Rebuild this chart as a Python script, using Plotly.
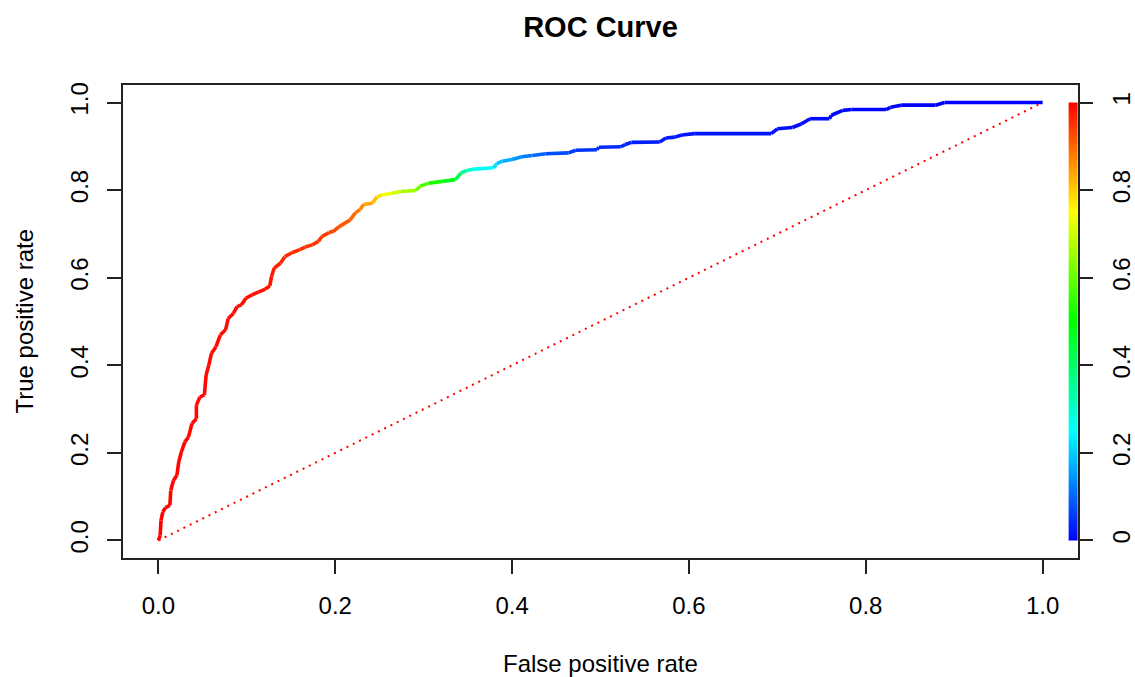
import colorsys
import numpy as np
import plotly.graph_objects as go
from plotly.colors import sample_colorscale

# ---------------- data ----------------
fpr = [0.000, 0.002, 0.003, 0.005, 0.008, 0.013, 0.014, 0.017, 0.021, 0.023,
       0.026, 0.030, 0.034, 0.038, 0.043, 0.043, 0.047, 0.052, 0.054, 0.057,
       0.060, 0.065, 0.070, 0.076, 0.079, 0.085, 0.089, 0.094, 0.099, 0.106,
       0.113, 0.121, 0.126, 0.128, 0.131, 0.138, 0.143, 0.151, 0.160, 0.166,
       0.174, 0.181, 0.185, 0.193, 0.198, 0.204, 0.217, 0.223, 0.228, 0.232,
       0.242, 0.247, 0.253, 0.264, 0.274, 0.291, 0.296, 0.306, 0.321, 0.336,
       0.342, 0.349, 0.357, 0.379, 0.383, 0.389, 0.400, 0.411, 0.423, 0.438,
       0.464, 0.472, 0.496, 0.498, 0.523, 0.528, 0.535, 0.567, 0.574, 0.584,
       0.592, 0.606, 0.693, 0.700, 0.717, 0.727, 0.737, 0.759, 0.761, 0.774,
       0.784, 0.823, 0.828, 0.840, 0.879, 0.889, 1.000]

tpr = [0.000, 0.011, 0.046, 0.065, 0.075, 0.080, 0.114, 0.137, 0.149, 0.179,
       0.202, 0.225, 0.236, 0.267, 0.278, 0.309, 0.328, 0.332, 0.378, 0.400,
       0.427, 0.442, 0.469, 0.481, 0.507, 0.519, 0.534, 0.538, 0.553, 0.561,
       0.567, 0.574, 0.581, 0.603, 0.622, 0.633, 0.648, 0.657, 0.664, 0.670,
       0.675, 0.683, 0.694, 0.703, 0.706, 0.716, 0.732, 0.749, 0.755, 0.767,
       0.770, 0.784, 0.789, 0.793, 0.797, 0.799, 0.809, 0.816, 0.820, 0.824,
       0.839, 0.845, 0.848, 0.851, 0.861, 0.866, 0.870, 0.876, 0.879, 0.883,
       0.885, 0.891, 0.892, 0.898, 0.899, 0.904, 0.909, 0.910, 0.919, 0.921,
       0.926, 0.929, 0.929, 0.940, 0.943, 0.951, 0.963, 0.963, 0.971, 0.982,
       0.984, 0.984, 0.989, 0.994, 0.994, 1.000, 1.000]

cutoff = [1.000, 1.000, 0.999, 0.999, 0.998, 0.998, 0.997, 0.997, 0.996, 0.996,
          0.995, 0.995, 0.994, 0.994, 0.993, 0.993, 0.992, 0.992, 0.991, 0.991,
          0.990, 0.990, 0.989, 0.989, 0.988, 0.988, 0.987, 0.987, 0.986, 0.986,
          0.985, 0.984, 0.983, 0.980, 0.975, 0.965, 0.960, 0.957, 0.955, 0.953,
          0.950, 0.947, 0.944, 0.940, 0.935, 0.925, 0.905, 0.890, 0.875, 0.860,
          0.830, 0.800, 0.760, 0.720, 0.680, 0.640, 0.600, 0.550, 0.500, 0.460,
          0.380, 0.320, 0.270, 0.240, 0.200, 0.180, 0.160, 0.130, 0.110, 0.090,
          0.060, 0.055, 0.050, 0.045, 0.040, 0.035, 0.030, 0.030, 0.025, 0.025,
          0.020, 0.020, 0.018, 0.016, 0.014, 0.012, 0.010, 0.010, 0.008, 0.006,
          0.005, 0.004, 0.003, 0.002, 0.001, 0.000, 0.000]

diag_x = [0.0, 1.0]
diag_y = [0.0, 1.0]

axis_ticks = [0.0, 0.2, 0.4, 0.6, 0.8, 1.0]
axis_ticktext = ["0.0", "0.2", "0.4", "0.6", "0.8", "1.0"]
cbar_ticktext = ["0", "0.2", "0.4", "0.6", "0.8", "1"]

# ---------------- style ----------------
FONT = "Liberation Sans, Arial, sans-serif"
# R's rainbow(start=0, end=4/6) reversed: 0 -> blue, 1 -> red
rainbow = []
for v in np.linspace(0, 1, 25):
    r, g, b = colorsys.hsv_to_rgb((1 - v) * 4 / 6, 1, 1)
    rainbow.append([float(v), f"rgb({int(round(r*255))},{int(round(g*255))},{int(round(b*255))})"])

fig = go.Figure()

# colour-coded ROC curve, one short segment per step
seg_vals = [(cutoff[i] + cutoff[i + 1]) / 2 for i in range(len(fpr) - 1)]
seg_cols = sample_colorscale(rainbow, seg_vals)
for i in range(len(fpr) - 1):
    fig.add_trace(go.Scatter(
        x=[fpr[i], fpr[i + 1]], y=[tpr[i], tpr[i + 1]],
        mode="lines", line=dict(color=seg_cols[i], width=3.6),
        hoverinfo="skip", showlegend=False))

# diagonal reference line
fig.add_trace(go.Scatter(
    x=diag_x, y=diag_y, mode="lines",
    line=dict(color="red", width=2, dash="2px,5px"),
    hoverinfo="skip", showlegend=False))

# colour key drawn as a thin heatmap strip against the right border
ny = 256
ykey = np.linspace(0, 1, ny + 1)
zkey = [[float((ykey[j] + ykey[j + 1]) / 2)] for j in range(ny)]
fig.add_trace(go.Heatmap(
    x=[1.0294, 1.04], y=ykey, z=zkey, colorscale=rainbow, zmin=0, zmax=1,
    showscale=False, hoverinfo="skip", yaxis="y2"))

tickfont = dict(family=FONT, size=24, color="#000")
fig.update_layout(
    width=1135, height=677,
    margin=dict(l=123, r=57, t=85, b=119, autoexpand=False),
    paper_bgcolor="white", plot_bgcolor="white",
    showlegend=False,
    title=dict(text="<b>ROC Curve</b>", x=0.5, xref="paper", xanchor="center",
               y=1 - 27 / 677, yref="container", yanchor="middle",
               font=dict(family=FONT, size=29, color="#000")),
    xaxis=dict(range=[-0.04, 1.04], tickvals=axis_ticks, ticktext=axis_ticktext,
               ticks="outside", ticklen=14, tickwidth=1.5, tickcolor="#222",
               showline=True, mirror=True, linecolor="#222", linewidth=1.5,
               showgrid=False, zeroline=False, tickfont=tickfont,
               ticklabelstandoff=11, automargin=False),
    yaxis=dict(range=[-0.04, 1.04], tickvals=axis_ticks, ticktext=axis_ticktext,
               ticks="outside", ticklen=14, tickwidth=1.5, tickcolor="#222",
               showline=True, mirror=True, linecolor="#222", linewidth=1.5,
               showgrid=False, zeroline=False, tickfont=tickfont, tickangle=-90,
               ticklabelstandoff=10, automargin=False),
    yaxis2=dict(range=[-0.04, 1.04], overlaying="y", side="right",
                tickvals=axis_ticks, ticktext=cbar_ticktext,
                ticks="outside", ticklen=14, tickwidth=1.5, tickcolor="#222",
                showline=False, showgrid=False, zeroline=False,
                tickfont=tickfont, tickangle=-90, ticklabelstandoff=8,
                automargin=False),
    annotations=[
        dict(text="False positive rate", xref="paper", yref="paper", x=0.5, y=0,
             xanchor="center", yanchor="middle", yshift=-105, showarrow=False,
             font=dict(family=FONT, size=24, color="#000")),
        dict(text="True positive rate", xref="paper", yref="paper", x=0, y=0.5,
             xanchor="center", yanchor="middle", xshift=-99, textangle=-90,
             showarrow=False, font=dict(family=FONT, size=24, color="#000")),
    ],
)

fig.write_html("out.html", config={"displayModeBar": False})
